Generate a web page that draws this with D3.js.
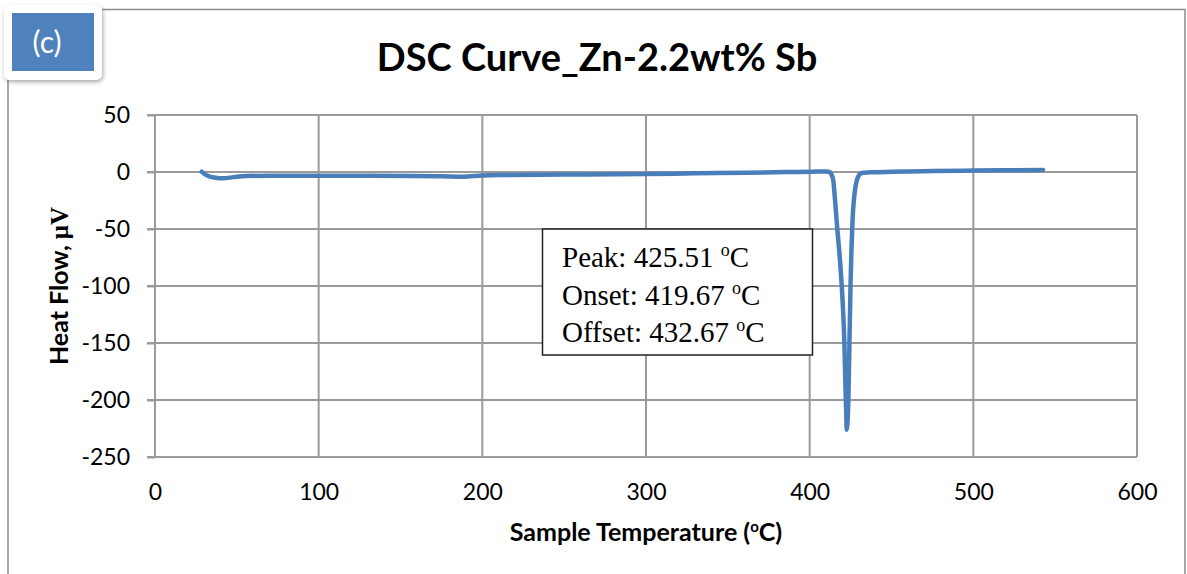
<!DOCTYPE html>
<html>
<head>
<meta charset="utf-8">
<script src="https://cdnjs.cloudflare.com/ajax/libs/d3/7.8.5/d3.min.js"></script>
<style>
  body { margin: 0; background: #fff; }
  svg { display: block; }
</style>
</head>
<body>
<div id="chart"></div>
<script>
// DSC curve
var temperature = [28.5, 30, 33.6, 37, 41.7, 48, 56, 70, 100.8, 130, 157.6, 175, 188, 200, 210.8, 250,
    300.4, 330, 361.5, 385, 402.2, 409.4, 411.4, 412.4, 413.4, 414.4, 415.5, 416.9, 418.5, 419.6, 420.6,
    421.2, 421.8, 422.4, 422.6, 423.0, 423.6, 424.3, 425.0, 425.6, 426.3, 427.0, 427.7, 428.7, 429.7,
    431, 432.8, 436.8, 450, 475, 500, 525, 542.6];
var heatFlow = [0.3, -1.5, -4.1, -5.0, -5.5, -4.5, -3.5, -3.3, -3.2, -3.3, -3.5, -3.8, -4.1, -3.0, -2.6, -2.3,
    -1.8, -1.2, -0.6, -0.1, 0.3, 0.4, 0.3, 0.0, -2.5, -7, -24.6, -50, -77, -100, -127,
    -149, -185, -215, -226, -222, -203, -150, -97, -65, -39, -25, -16, -8, -4,
    -1.5, -0.6, -0.3, 0.2, 0.8, 1.3, 1.6, 1.8];

var xTicks = [0, 100, 200, 300, 400, 500, 600];
var yTicks = [50, 0, -50, -100, -150, -200, -250];
var boxLines = [
    { label: "Peak: ", value: "425.51" },
    { label: "Onset: ", value: "419.67" },
    { label: "Offset: ", value: "432.67" }
];

var width = 1187, height = 574;
var sans = "Lato, 'Open Sans', sans-serif";
var serif = "'Liberation Serif', 'DejaVu Serif', serif";
var plain = function(d) { return String(d); };   // keep the ascii hyphen

var svg = d3.select("#chart").append("svg")
    .attr("width", width)
    .attr("height", height);

// outer frame
svg.append("path")
    .attr("d", "M8,574 V80 M102,9.5 H1185 V574")
    .attr("fill", "none")
    .attr("stroke", "#8c8c8c")
    .attr("stroke-width", 1.5);

var x = d3.scaleLinear().domain([0, 600]).range([155, 1137]);
var y = d3.scaleLinear().domain([-250, 50]).range([457, 115]);

// gridlines
var grid = svg.append("g").attr("class", "grid");
grid.selectAll("line.v").data(xTicks).enter().append("line")
    .attr("class", "v")
    .attr("x1", function(d) { return x(d); })
    .attr("x2", function(d) { return x(d); })
    .attr("y1", y(50)).attr("y2", y(-250));
grid.selectAll("line.h").data(yTicks).enter().append("line")
    .attr("class", "h")
    .attr("x1", x(0) - 8).attr("x2", x(600))
    .attr("y1", function(d) { return y(d); })
    .attr("y2", function(d) { return y(d); });
grid.selectAll("line")
    .attr("stroke", "#9a9a9a")
    .attr("stroke-width", 2);

// y axis
var yAxis = svg.append("g")
    .attr("transform", "translate(" + x(0) + ",0)")
    .call(d3.axisLeft(y).tickValues(yTicks).tickFormat(plain).tickSize(8).tickPadding(17));
yAxis.select(".domain").remove();
yAxis.selectAll(".tick line").attr("stroke", "#9a9a9a").attr("stroke-width", 2);
yAxis.selectAll(".tick text")
    .attr("fill", "#000")
    .style("font-family", sans)
    .style("font-size", "23px");

// x axis
var xAxis = svg.append("g")
    .attr("transform", "translate(0," + y(-250) + ")")
    .call(d3.axisBottom(x).tickValues(xTicks).tickFormat(plain).tickSize(0).tickPadding(27));
xAxis.select(".domain").remove();
xAxis.selectAll(".tick text")
    .attr("fill", "#000")
    .style("font-family", sans)
    .style("font-size", "23px");

// curve
var pts = temperature.map(function(t, i) { return [t, heatFlow[i]]; });
var line = d3.line()
    .x(function(d) { return x(d[0]); })
    .y(function(d) { return y(d[1]); })
    .curve(d3.curveMonotoneX);
svg.append("path")
    .datum(pts)
    .attr("d", line)
    .attr("fill", "none")
    .attr("stroke", "#4a7ebb")
    .attr("stroke-width", 4.5)
    .attr("stroke-linejoin", "round")
    .attr("stroke-linecap", "round");

// title
svg.append("text")
    .attr("x", 597).attr("y", 71)
    .attr("text-anchor", "middle")
    .style("font-family", sans)
    .style("font-weight", "bold")
    .style("font-size", "38px")
    .text("DSC Curve_Zn-2.2wt% Sb");

// axis titles
var xt = svg.append("text")
    .attr("x", 646).attr("y", 541)
    .attr("text-anchor", "middle")
    .style("font-family", sans)
    .style("font-weight", "bold")
    .style("font-size", "25px");
xt.append("tspan").text("Sample Temperature (");
xt.append("tspan").attr("dy", -9).style("font-size", "15px").text("o");
xt.append("tspan").attr("dy", 9).text("C)");

var yt = svg.append("text")
    .attr("transform", "translate(68,286) rotate(-90)")
    .attr("text-anchor", "middle")
    .style("font-weight", "bold")
    .style("font-size", "25px");
yt.append("tspan").style("font-family", sans).text("Heat Flow, ");
yt.append("tspan").style("font-family", serif).text("\u03bcV");

// annotation box
svg.append("rect")
    .attr("x", 542.5).attr("y", 229)
    .attr("width", 270).attr("height", 126)
    .attr("fill", "#fff")
    .attr("stroke", "#222")
    .attr("stroke-width", 1.5);
var bt = svg.append("g").selectAll("text").data(boxLines).enter().append("text")
    .attr("x", 562)
    .attr("y", function(d, i) { return 267 + i * 37.5; })
    .style("font-family", serif)
    .style("font-size", "29px");
bt.append("tspan").text(function(d) { return d.label + d.value + " "; });
bt.append("tspan").attr("dy", -11).style("font-size", "18px").text("o");
bt.append("tspan").attr("dy", 11).text("C");

// panel badge
var defs = svg.append("defs");
var f = defs.append("filter").attr("id", "shadow").attr("x", "-20%").attr("y", "-20%")
    .attr("width", "150%").attr("height", "150%");
f.append("feDropShadow").attr("dx", 1).attr("dy", 2).attr("stdDeviation", 2)
    .attr("flood-color", "#000").attr("flood-opacity", 0.35);
svg.append("rect")
    .attr("x", 4).attr("y", 5).attr("width", 98).attr("height", 75)
    .attr("rx", 6)
    .attr("fill", "#fff")
    .attr("filter", "url(#shadow)");
svg.append("rect")
    .attr("x", 12).attr("y", 13).attr("width", 82).attr("height", 58)
    .attr("fill", "#4f81bd");
svg.append("text")
    .attr("x", 47).attr("y", 53)
    .attr("text-anchor", "middle")
    .attr("fill", "#fff")
    .style("font-family", sans)
    .style("font-size", "30px")
    .text("(c)");
</script>
</body>
</html>
